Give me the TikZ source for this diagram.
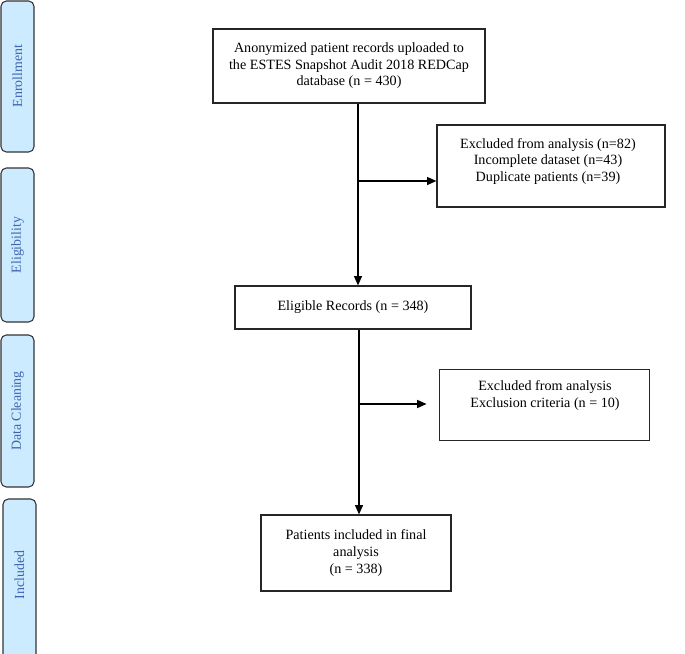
\documentclass[tikz,border=0pt]{standalone}
\usepackage{fontspec}
\setmainfont{Liberation Serif}
\usetikzlibrary{arrows.meta}
\definecolor{barfill}{RGB}{204,235,255}
\definecolor{bartext}{RGB}{62,100,175}
\tikzset{
  box/.style={draw=black!85, line width=0.9pt, inner sep=0pt, align=center,
    font=\fontsize{10.6pt}{12.4pt}\selectfont},
  bar/.style={draw=black!80, fill=barfill, rounded corners=4pt, line width=0.8pt},
  bartxt/.style={text=bartext, rotate=90, font=\fontsize{10.4pt}{12.4pt}\selectfont},
  arr/.style={line width=0.9pt, -{Triangle[length=7pt,width=6pt]}},
  ln/.style={line width=0.9pt}
}
\begin{document}
\begin{tikzpicture}[x=0.75pt,y=-0.75pt]
\useasboundingbox (0,0) rectangle (685,653);
% side bars
\draw[bar] (1,1) rectangle (34,152);
\node[bartxt] (t1) at (17.5,76) {Enrollment};
\draw[bar] (1,168) rectangle (34,322);
\node[bartxt] (t2) at (17.5,245) {Eligibility};
\draw[bar] (1,335) rectangle (34,487);
\node[bartxt] (t3) at (17.5,411) {Data Cleaning};
\draw[bar] (3,499) rectangle (36,660);
\node[bartxt] (t4) at (19.5,575) {Included};
% boxes
\node[box, minimum width=204pt, minimum height=55.5pt] (top) at (349,66)
  {Anonymized patient records uploaded to\\the ESTES Snapshot Audit 2018 REDCap\\database (n = 430)};
\node[box, minimum width=171pt, minimum height=61.5pt] (ex1) at (551,166) {};
\node[align=center, font=\fontsize{10.6pt}{12.4pt}\selectfont] (ex1t) at (548,161.5)
  {Excluded from analysis (n=82)\\Incomplete dataset (n=43)\\Duplicate patients (n=39)};
\node[box, minimum width=177pt, minimum height=32.25pt] (elig) at (353,307.5)
  {Eligible Records (n = 348)};
\node[box, minimum width=158pt, minimum height=53pt] (ex2) at (544.5,405) {};
\node[align=center, font=\fontsize{10.6pt}{12.4pt}\selectfont] (ex2t) at (545,395.5)
  {Excluded from analysis\\Exclusion criteria (n = 10)};
\node[box, minimum width=142.5pt, minimum height=57pt] (fin) at (356,553)
  {Patients included in final\\analysis\\(n = 338)};
% connectors
\coordinate (c1) at (358,181);
\coordinate (c2) at (359,404);
\draw[arr] (top.south -| c1) -- (elig.north -| c1);
\draw[arr] (c1) -- (ex1.west |- c1);
\draw[arr] (elig.south -| c2) -- (fin.north -| c2);
\draw[arr] (c2) -- ([xshift=-9pt]ex2.west |- c2);
\end{tikzpicture}
\end{document}
